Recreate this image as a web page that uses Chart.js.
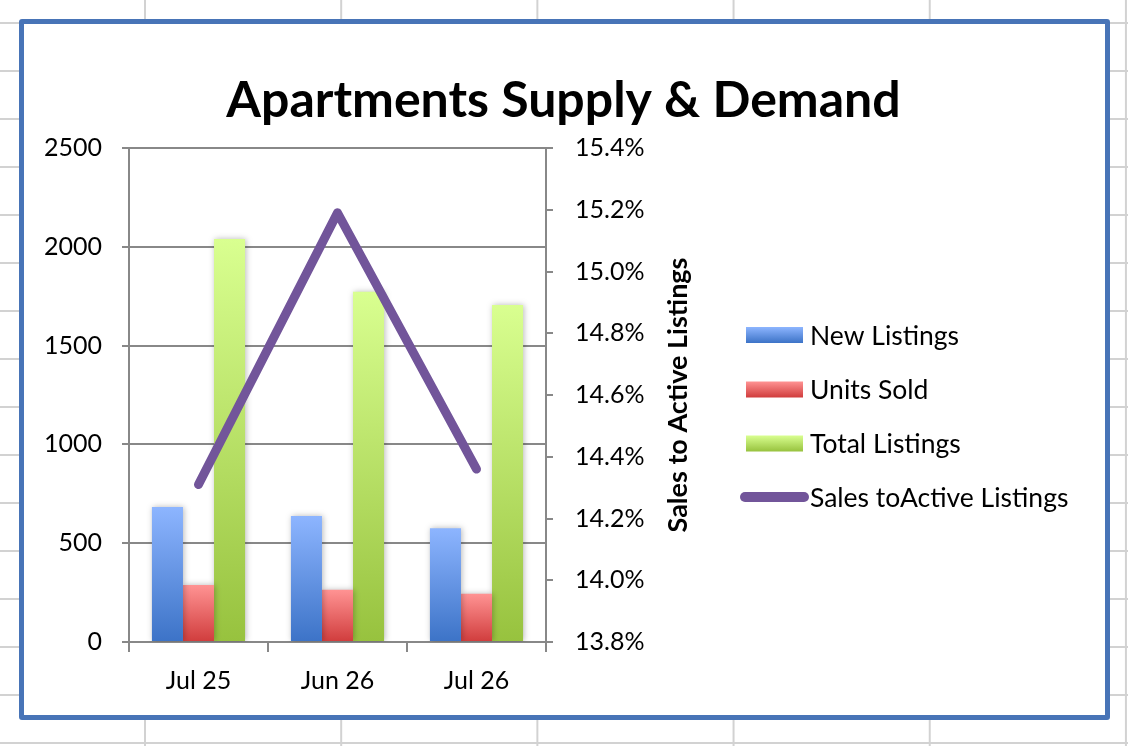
<!DOCTYPE html>
<html>
<head>
<meta charset="utf-8">
<script src="https://cdn.jsdelivr.net/npm/chart.js@4.4.1/dist/chart.umd.min.js"></script>
<style>
    html, body {
        margin: 0;
        padding: 0;
        width: 1128px;
        height: 746px;
        overflow: hidden;
    }
    body {
        background-color: #ffffff;
        background-image:
            linear-gradient(#d2d2d2 2px, transparent 2px),
            linear-gradient(90deg, #d2d2d2 2px, transparent 2px);
        background-size: 100% 48px, 196.2px 100%;
        background-position: 0 22px, 144px 0;
    }
    #frame {
        position: absolute;
        left: 19px;
        top: 19px;
        width: 1081px;
        height: 691px;
        border: 5px solid #4874b7;
        border-radius: 3px;
        background: #ffffff;
    }
    #chart {
        display: block;
    }
</style>
</head>
<body>
<div id="frame"><canvas id="chart" width="1081" height="691"></canvas></div>
<script>
// Apartments supply & demand chart

const categories = ['Jul 25', 'Jun 26', 'Jul 26'];
const newListings = [683, 638, 576];
const unitsSold = [289, 264, 244];
const totalListings = [2039, 1773, 1705];
const salesToActive = [14.31, 15.19, 14.36]; // percent
const countTicks = [0, 500, 1000, 1500, 2000, 2500];
const ratioTicks = [13.8, 14.0, 14.2, 14.4, 14.6, 14.8, 15.0, 15.2, 15.4];

const titleText = 'Apartments Supply & Demand';
const ratioAxisTitle = 'Sales to Active Listings';
const FONT = 'Lato, "Open Sans", sans-serif';

// vertical gradient spanning each bar, like Excel's fill
function barGradient(topColor, bottomColor) {
    return function (ctx) {
        const chart = ctx.chart;
        if (!chart.chartArea || ctx.type !== 'data') return topColor;
        const y = chart.scales.y;
        const y0 = y.getPixelForValue(ctx.raw);
        const y1 = y.getPixelForValue(0);
        const g = chart.ctx.createLinearGradient(0, y0, 0, y1);
        g.addColorStop(0, topColor);
        g.addColorStop(1, bottomColor);
        return g;
    };
}

// soft grey shadow round the bars
const barShadow = {
    id: 'barShadow',
    beforeDatasetDraw(chart, args) {
        if (args.meta.type !== 'bar') return;
        const ctx = chart.ctx;
        ctx.save();
        ctx.shadowColor = 'rgba(0, 0, 0, 0.28)';
        ctx.shadowBlur = 6;
        ctx.shadowOffsetX = 1;
        ctx.shadowOffsetY = 0;
    },
    afterDatasetDraw(chart, args) {
        if (args.meta.type !== 'bar') return;
        chart.ctx.restore();
    }
};

// title over the whole chart, right axis title (reads bottom to top), legend
const extras = {
    id: 'extras',
    afterDraw(chart) {
        const ctx = chart.ctx;
        const area = chart.chartArea;

        ctx.save();
        ctx.fillStyle = '#000';
        ctx.font = 'bold 50px ' + FONT;
        ctx.textAlign = 'center';
        ctx.textBaseline = 'alphabetic';
        ctx.fillText(titleText, chart.width / 2 - 1, 93);
        ctx.restore();

        ctx.save();
        ctx.translate(654, (area.top + area.bottom) / 2);
        ctx.rotate(-Math.PI / 2);
        ctx.fillStyle = '#000';
        ctx.font = 'bold 27px ' + FONT;
        ctx.textAlign = 'center';
        ctx.textBaseline = 'middle';
        ctx.fillText(ratioAxisTitle, 0, 0);
        ctx.restore();

        const boxX = 722, boxW = 57, boxH = 16, textX = 786;
        const rowY = [311, 365.5, 419.5, 473];
        const legendColors = [
            ['#8db5ff', '#3c73c7'],
            ['#ff9393', '#d03c3c'],
            ['#d9ff90', '#97c23e']
        ];
        ctx.save();
        ctx.font = '26.5px ' + FONT;
        ctx.textBaseline = 'middle';
        ctx.textAlign = 'left';
        chart.data.datasets.forEach((ds, i) => {
            const cy = rowY[i];
            if (ds.type === 'line') {
                ctx.strokeStyle = ds.borderColor;
                ctx.lineWidth = 10;
                ctx.lineCap = 'round';
                ctx.beginPath();
                ctx.moveTo(boxX - 1, cy);
                ctx.lineTo(boxX + boxW + 1, cy);
                ctx.stroke();
            } else {
                const g = ctx.createLinearGradient(0, cy - boxH / 2, 0, cy + boxH / 2);
                g.addColorStop(0, legendColors[i][0]);
                g.addColorStop(1, legendColors[i][1]);
                ctx.fillStyle = g;
                ctx.fillRect(boxX, cy - boxH / 2, boxW, boxH);
            }
            ctx.fillStyle = '#000';
            ctx.fillText(ds.label, textX, cy + 1);
        });
        ctx.restore();
    }
};

const gridColor = '#888888';

new Chart(document.getElementById('chart'), {
    data: {
        labels: categories,
        datasets: [
            {
                type: 'bar',
                label: 'New Listings',
                data: newListings,
                backgroundColor: barGradient('#8db5ff', '#3c73c7'),
                order: 1
            },
            {
                type: 'bar',
                label: 'Units Sold',
                data: unitsSold,
                backgroundColor: barGradient('#ff9393', '#d03c3c'),
                order: 1
            },
            {
                type: 'bar',
                label: 'Total Listings',
                data: totalListings,
                backgroundColor: barGradient('#d9ff90', '#97c23e'),
                order: 1
            },
            {
                type: 'line',
                label: 'Sales toActive Listings',
                data: salesToActive,
                yAxisID: 'y1',
                borderColor: '#72559a',
                borderWidth: 9,
                borderCapStyle: 'round',
                borderJoinStyle: 'round',
                pointRadius: 0,
                tension: 0,
                order: 0
            }
        ]
    },
    options: {
        responsive: false,
        animation: false,
        devicePixelRatio: 1,
        layout: {
            padding: { left: 0, right: 409, top: 124, bottom: 0 }
        },
        datasets: {
            bar: {
                barPercentage: 1,
                categoryPercentage: 0.67,
                borderWidth: 0
            }
        },
        plugins: {
            legend: { display: false },
            tooltip: { enabled: false },
            title: { display: false }
        },
        scales: {
            x: {
                offset: true,
                grid: {
                    display: true,
                    drawOnChartArea: false,
                    offset: true,
                    color: gridColor,
                    lineWidth: 2,
                    tickLength: 10
                },
                border: { display: true, color: gridColor, width: 2 },
                ticks: {
                    color: '#000',
                    font: { family: FONT, size: 25 },
                    padding: 14
                },
                afterFit(scale) { scale.height = 73; }
            },
            y: {
                position: 'left',
                min: 0,
                max: 2500,
                afterBuildTicks(scale) {
                    scale.ticks = countTicks.map(v => ({ value: v }));
                },
                grid: {
                    color: gridColor,
                    lineWidth: 2,
                    tickLength: 7
                },
                border: { display: true, color: gridColor, width: 2 },
                ticks: {
                    color: '#000',
                    font: { family: FONT, size: 25 },
                    padding: 20,
                    callback: v => String(v)
                },
                afterFit(scale) { scale.width = 105; }
            },
            y1: {
                position: 'right',
                min: 13.8,
                max: 15.4,
                afterBuildTicks(scale) {
                    scale.ticks = ratioTicks.map(v => ({ value: v }));
                },
                grid: {
                    drawOnChartArea: false,
                    color: gridColor,
                    lineWidth: 2,
                    tickLength: 7
                },
                border: { display: true, color: gridColor, width: 2 },
                ticks: {
                    color: '#000',
                    font: { family: FONT, size: 25 },
                    padding: 22,
                    callback: v => v.toFixed(1) + '%'
                },
                afterFit(scale) { scale.width = 150; }
            }
        }
    },
    plugins: [barShadow, extras]
});
</script>
</body>
</html>
